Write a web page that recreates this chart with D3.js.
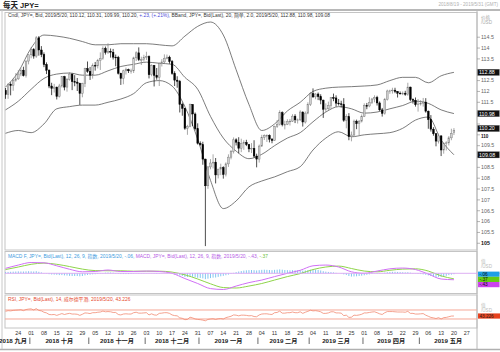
<!DOCTYPE html>
<html lang="zh">
<head>
<meta charset="UTF-8">
<title>每天 JPY=</title>
<script src="https://d3js.org/d3.v7.min.js"></script>
<style>
  body { margin: 0; background: #fff; }
  svg text { font-family: "Liberation Sans", "Noto Sans CJK SC", sans-serif; }
</style>
</head>
<body>
<svg id="chart" width="500" height="352"></svg>
<script>
// daily candles, 2018-09-17 .. 2019-05-20 (weekdays)
const startDay = "2018-09-17";
const endDay = "2019-05-31";
const opens = [
  112.05,111.85,112.33,112.27,112.50, 112.58,112.80,112.98,112.73,113.40,
  113.69,113.93,113.63,114.47,113.91, 113.70,113.24,112.98,112.25,112.14,
  112.20,111.77,112.25,112.68,112.20, 112.55,112.80,112.45,112.43,112.38,
  111.91,112.36,113.05,112.93,112.75, 113.20,113.18,113.42,113.52,113.98,
  113.80,113.85,113.81,113.58,113.57, 112.84,112.60,112.95,113.00,112.95,
  112.95,113.55,113.78,113.46,113.46, 113.57,113.61,112.77,113.20,112.74,
  112.65,113.29,113.36,113.53,113.58, 113.38,112.83,112.52,112.47,111.40,
  111.22,110.30,110.39,111.40,110.96, 110.28,109.61,109.55,108.88,107.65,
  108.52,108.70,108.74,108.15,108.42, 108.49,108.17,108.66,108.97,109.23,
  109.77,109.66,109.38,109.61,109.65, 109.55,109.35,109.38,109.02,108.88,
  109.48,109.88,109.96,109.97,109.80, 109.74,110.39,110.47,111.02,110.47,
  110.48,110.62,110.63,110.86,110.69, 110.69,111.05,110.59,111.00,111.39,
  111.90,111.75,111.88,111.76,111.60, 111.18,111.20,111.35,111.71,111.70,
  111.46,111.43,111.40,110.67,110.84, 109.92,109.99,110.63,110.51,110.63,
  110.85,111.35,111.33,111.50,111.65, 111.72,111.47,111.15,110.99,111.62,
  112.02,112.03,112.06,112.00,111.92, 111.91,111.92,111.87,112.20,111.63,
  111.59,111.39,111.42,111.46,111.51, 111.09,110.70,110.26,110.05,109.71,
  109.95,109.30,109.59,109.63,109.86, 110.12
];
const highs = [
  112.16,112.38,112.42,112.58,112.84, 112.98,113.07,113.14,113.43,113.71,
  114.04,114.00,114.55,114.55,114.09, 113.80,113.34,113.02,112.40,112.35,
  112.22,112.35,112.70,112.72,112.62, 112.88,112.83,112.75,112.62,112.40,
  112.40,113.09,113.38,113.13,113.29, 113.36,113.50,113.80,114.08,114.07,
  114.22,113.98,113.96,113.70,113.64, 112.86,113.00,113.10,113.05,113.05,
  113.60,113.85,114.03,113.60,113.69, 113.83,113.66,113.25,113.22,113.08,
  113.33,113.49,113.71,113.70,113.65, 113.45,112.93,112.70,112.53,111.48,
  111.24,110.46,111.44,111.41,111.03, 110.53,109.70,109.68,108.90,108.56,
  108.88,109.10,108.93,108.43,108.67, 108.55,108.73,109.10,109.30,109.88,
  109.84,109.89,109.82,109.75,109.77, 109.58,109.62,109.75,109.13,109.55,
  110.00,110.02,110.02,110.02,109.85, 110.42,110.68,111.13,111.08,110.65,
  110.72,110.73,110.95,110.95,110.75, 111.13,111.08,111.08,111.50,111.97,
  112.14,111.92,111.95,111.87,111.62, 111.45,111.53,111.72,111.90,111.82,
  111.65,111.57,111.69,110.95,111.00, 110.15,110.70,110.70,110.68,110.94,
  111.45,111.47,111.73,111.70,111.82, 111.80,111.54,111.24,111.70,112.08,
  112.08,112.17,112.17,112.02,112.00, 112.00,112.03,112.40,112.22,111.68,
  111.72,111.65,111.60,111.70,111.69, 111.12,110.91,110.35,110.06,110.06,
  109.98,109.65,109.70,109.94,110.28, 110.31
];
const lows = [
  111.66,111.66,111.82,112.03,112.45, 112.53,112.70,112.69,112.64,113.25,
  113.53,113.51,113.55,113.65,113.58, 113.12,112.80,112.15,111.83,111.95,
  111.63,111.72,112.18,112.05,111.99, 112.50,112.06,112.24,112.02,111.38,
  111.73,112.20,112.86,112.53,112.59, 112.96,113.06,112.99,113.46,113.70,
  113.73,113.56,113.47,113.16,112.78, 112.30,112.33,112.78,112.85,112.82,
  112.85,113.40,113.40,113.22,113.38, 113.45,112.60,112.70,112.23,112.54,
  112.25,113.15,113.30,113.48,113.28, 112.77,112.25,112.17,111.03,110.88,
  110.23,110.00,110.35,110.40,110.20, 109.55,109.50,108.62,104.87,107.51,
  108.41,108.45,107.76,107.99,108.14, 107.98,108.08,108.52,108.87,109.14,
  109.51,109.15,109.20,109.31,109.48, 109.20,109.16,108.95,108.50,108.72,
  109.45,109.76,109.67,109.65,109.61, 109.72,110.32,110.43,110.39,110.25,
  110.45,110.43,110.59,110.54,110.52, 110.64,110.38,110.52,110.95,111.33,
  111.70,111.64,111.60,111.41,110.78, 111.05,111.15,111.20,111.55,111.30,
  111.35,111.26,110.60,110.30,109.75, 109.70,109.92,110.26,109.99,110.57,
  110.82,111.18,111.27,111.42,111.50, 111.35,111.10,110.84,110.93,111.58,
  111.89,111.90,111.92,111.72,111.86, 111.83,111.80,111.80,111.55,111.44,
  111.30,111.07,111.35,111.30,111.02, 110.28,110.15,109.96,109.47,109.60,
  109.02,109.13,109.28,109.51,109.75, 109.99
];
const closes = [
  111.85,112.33,112.27,112.50,112.58, 112.80,112.98,112.73,113.40,113.69,
  113.93,113.63,114.47,113.91,113.70, 113.24,112.98,112.25,112.14,112.20,
  111.77,112.25,112.68,112.20,112.55, 112.80,112.45,112.43,112.38,111.91,
  112.36,113.05,112.93,112.75,113.20, 113.18,113.42,113.52,113.98,113.80,
  113.85,113.81,113.58,113.57,112.84, 112.60,112.95,113.00,112.95,112.95,
  113.55,113.78,113.46,113.46,113.57, 113.61,112.77,113.20,112.74,112.65,
  113.29,113.36,113.53,113.58,113.38, 112.83,112.52,112.47,111.40,111.22,
  110.30,110.39,111.40,110.96,110.28, 109.61,109.55,108.88,107.65,108.52,
  108.70,108.74,108.15,108.42,108.49, 108.17,108.66,108.97,109.23,109.77,
  109.66,109.38,109.61,109.65,109.55, 109.35,109.38,109.02,108.88,109.48,
  109.88,109.96,109.97,109.80,109.74, 110.39,110.47,111.02,110.47,110.48,
  110.62,110.63,110.86,110.69,110.69, 111.05,110.59,111.00,111.39,111.90,
  111.75,111.88,111.76,111.60,111.18, 111.20,111.35,111.71,111.70,111.46,
  111.43,111.40,110.67,110.84,109.92, 109.99,110.63,110.51,110.63,110.85,
  111.35,111.33,111.50,111.65,111.72, 111.47,111.15,110.99,111.62,112.02,
  112.03,112.06,112.00,111.92,111.91, 111.92,111.87,112.20,111.63,111.59,
  111.39,111.42,111.46,111.51,111.09, 110.70,110.26,110.05,109.71,109.95,
  109.30,109.59,109.63,109.86,110.06, 110.20
];

// Bollinger band (20, 2.0) read weekly, at day index 0,5,10,...,175
const bandIdx = [0,5,10,15,20,25,30,35,40,45,50,55,60,65,70,75,80,85,90,95,100,105,110,115,120,125,130,135,140,145,150,155,160,165,170,175];
const bandUpper = [112.2,112.9,114.0,114.6,114.55,114.45,114.3,114.15,114.15,114.2,114.2,114.2,114.15,114.1,114.55,115.0,115.2,114.6,113.0,111.4,110.2,110.5,111.1,111.5,112.0,112.15,112.2,112.22,112.25,112.3,112.5,112.65,112.65,112.4,112.72,112.88];
const bandMid = [111.15,111.55,112.1,112.6,112.8,112.85,112.75,112.75,112.95,113.15,113.25,113.35,113.3,113.25,112.65,112.1,110.85,109.85,109.25,108.9,109.1,109.5,109.85,110.1,110.6,111.05,111.3,111.2,111.0,111.05,111.2,111.35,111.55,111.45,111.15,110.98];
const bandLower = [110.07,110.2,110.1,110.5,111.2,111.3,111.37,111.37,111.5,111.65,111.9,112.4,112.5,112.25,111.3,109.8,107.9,106.6,106.95,107.6,107.87,108.06,108.3,108.53,109.3,109.85,110.14,109.91,110.0,110.05,110.1,110.3,110.68,110.82,109.76,109.08];

// MACD (12, 26, 9) lines, weekly
const macdLine = [0.33,0.55,0.72,0.7,0.5,0.27,0.1,0.12,0.22,0.12,0.12,0.15,0.12,0.0,-0.35,-0.68,-1.02,-1.08,-0.85,-0.62,-0.45,-0.22,0.0,0.2,0.5,0.55,0.42,0.1,0.0,0.15,0.3,0.35,0.25,-0.05,-0.38,-0.43];
const macdSignal = [0.25,0.42,0.6,0.68,0.6,0.45,0.28,0.18,0.17,0.17,0.14,0.14,0.14,0.08,-0.1,-0.38,-0.7,-0.95,-0.98,-0.85,-0.68,-0.45,-0.22,-0.02,0.25,0.42,0.48,0.32,0.15,0.1,0.2,0.28,0.3,0.15,-0.17,-0.37];
// MACD F histogram, daily
const macdHist = [
  0.08,0.09,0.10,0.11,0.12, 0.13,0.12,0.12,0.13,0.14, 0.13,0.12,0.14,0.10,0.06,
  0.02,-0.02,-0.06,-0.08,-0.09, -0.10,-0.12,-0.12,-0.14,-0.15, -0.17,-0.18,-0.18,-0.18,-0.20,
  -0.18,-0.14,-0.11,-0.09,-0.07, -0.06,-0.04,-0.02,0.02,0.04, 0.05,0.05,0.04,0.02,-0.03,
  -0.05,-0.05,-0.05,-0.05,-0.04, -0.02,0.01,0.02,0.02,0.02, 0.01,-0.01,-0.01,-0.02,-0.03,
  -0.02,-0.01,0.00,0.01,0.00, -0.04,-0.07,-0.09,-0.14,-0.18, -0.24,-0.25,-0.22,-0.23,-0.26,
  -0.30,-0.31,-0.34,-0.39,-0.36, -0.32,-0.29,-0.28,-0.24,-0.20, -0.17,-0.13,-0.09,-0.04,0.03,
  0.08,0.12,0.15,0.18,0.20, 0.21,0.22,0.21,0.19,0.21, 0.23,0.24,0.23,0.22,0.21,
  0.23,0.24,0.26,0.24,0.22, 0.21,0.20,0.21,0.20,0.19, 0.20,0.18,0.19,0.21,0.24,
  0.25,0.24,0.22,0.19,0.14, 0.11,0.09,0.08,0.06,0.03, 0.00,-0.02,-0.07,-0.11,-0.18,
  -0.22,-0.21,-0.20,-0.18,-0.16, -0.13,-0.10,-0.07,-0.04,-0.01, 0.02,0.02,0.01,0.04,0.07,
  0.09,0.10,0.10,0.09,0.08, 0.07,0.06,0.07,0.04,0.02, -0.01,-0.03,-0.05,-0.07,-0.10,
  -0.14,-0.18,-0.21,-0.24,-0.24, -0.24,-0.21,-0.17,-0.12,-0.09, -0.06
];

// RSI 14, daily
const rsi = [
  64,67,66,68,69, 70,71,67,72,74, 75,70,76,68,66, 60,57,50,49,50,
  46,50,54,50,53, 55,52,52,51,46, 51,57,56,54,58, 58,60,61,65,62,
  63,62,59,59,50, 48,52,53,52,52, 58,60,56,56,57, 58,48,53,48,47,
  55,56,58,58,55, 48,45,44,35,33, 27,28,38,35,30, 28,27,25,22,28,
  30,31,28,31,32, 30,36,39,42,48, 47,44,47,47,46, 44,45,41,40,48,
  52,53,53,51,50, 58,59,65,56,56, 58,58,61,58,58, 62,55,60,64,69,
  66,67,65,62,55, 55,57,62,62,57, 57,56,45,47,37, 38,47,46,48,51,
  57,57,59,61,62, 58,53,50,58,63, 63,63,62,61,61, 61,60,64,55,55,
  52,52,53,54,47, 42,37,35,32,36, 30,36,37,40,43, 43.226
];
const rsiBands = [70, 30];

const monthNames = ["一月","二月","三月","四月","五月","六月","七月","八月","九月","十月","十一月","十二月"];
const priceTicks = d3.range(105, 114.6, 0.5);

const svg = d3.select("#chart");
const W = 500, H = 352;
const left = 5, right = 477;
const mainTop = 12.5, mainBot = 250;
const macdTop = 251.5, macdBot = 293.5;
const rsiTop = 295, rsiBot = 328;

const parse = d3.timeParse("%Y-%m-%d");
const days = d3.timeDay.range(parse(startDay), d3.timeDay.offset(parse(endDay), 1))
  .filter(d => d.getDay() !== 0 && d.getDay() !== 6);

const x = d3.scaleLinear().domain([-0.2, days.length - 1]).range([left, right]);
const y = d3.scaleLinear().domain([104.69, 115.57]).range([mainBot, 14]);
const ym = d3.scaleLinear().domain([-1.35, 1.45]).range([293.55, 251.55]);
const yr = d3.scaleLinear().domain([-10, 137]).range([rsiBot, 294.9]);

// frame
svg.append("rect").attr("width", W).attr("height", H).attr("fill", "#fff");
svg.append("line").attr("x1", 0).attr("x2", W).attr("y1", 10).attr("y2", 10)
  .attr("stroke", "#a0a0a0").attr("stroke-width", 1.5);
svg.append("line").attr("x1", 0).attr("x2", W).attr("y1", 349.5).attr("y2", 349.5)
  .attr("stroke", "#b0b0b0").attr("stroke-width", 1.5);
svg.append("line").attr("x1", 2).attr("x2", 2).attr("y1", 10).attr("y2", 349)
  .attr("stroke", "#c8c8c8").attr("stroke-width", 1);

[[mainTop, mainBot], [macdTop, macdBot], [rsiTop, rsiBot]].forEach(([t, b]) => {
  svg.append("rect").attr("x", left).attr("y", t).attr("width", right - left).attr("height", b - t)
    .attr("fill", "none").attr("stroke", "#c4c4c4").attr("stroke-width", 1);
});
svg.append("line").attr("x1", right).attr("x2", right).attr("y1", 10).attr("y2", 349)
  .attr("stroke", "#b8b8b8").attr("stroke-width", 1);

// title
svg.append("text").attr("x", 3).attr("y", 8.3).attr("font-size", 7.5).attr("fill", "#222")
  .attr("font-weight", "bold").text("每天 JPY=");
svg.append("text").attr("x", 498).attr("y", 6).attr("text-anchor", "end")
  .attr("font-size", 4.6).attr("fill", "#b0b0b0").text("2018/8/19 - 2019/5/31 (GMT)");

// clip paths
const defs = svg.append("defs");
defs.append("clipPath").attr("id", "clipMain").append("rect")
  .attr("x", left).attr("y", mainTop).attr("width", right - left).attr("height", mainBot - mainTop);
defs.append("clipPath").attr("id", "clipMacd").append("rect")
  .attr("x", left).attr("y", macdTop).attr("width", right - left).attr("height", macdBot - macdTop);

// ---- main panel
const gMain = svg.append("g").attr("clip-path", "url(#clipMain)");

const band = d3.line().x(d => x(d[0])).y(d => y(d[1])).curve(d3.curveMonotoneX);
[bandUpper, bandMid, bandLower].forEach(arr => {
  gMain.append("path").datum(bandIdx.map((k, j) => [k, arr[j]]))
    .attr("d", band).attr("fill", "none").attr("stroke", "#5a5a5a").attr("stroke-width", 0.8);
});

const idx = d3.range(closes.length);
const isUp = i => closes[i] >= opens[i];
const bw = 1.7;
gMain.selectAll("line.wick").data(idx).join("line")
  .attr("class", "wick")
  .attr("x1", i => x(i)).attr("x2", i => x(i))
  .attr("y1", i => y(highs[i])).attr("y2", i => y(lows[i]))
  .attr("stroke", i => isUp(i) ? "#848484" : "#000").attr("stroke-width", 0.7);
gMain.selectAll("rect.body").data(idx).join("rect")
  .attr("class", "body")
  .attr("x", i => x(i) - bw / 2).attr("width", bw)
  .attr("y", i => y(Math.max(opens[i], closes[i])))
  .attr("height", i => Math.max(0.7, Math.abs(y(opens[i]) - y(closes[i]))))
  .attr("fill", i => isUp(i) ? "#cfcfcf" : "#000")
  .attr("stroke", i => isUp(i) ? "#7a7a7a" : "#000").attr("stroke-width", 0.45);

// main header
const hdr = svg.append("text").attr("x", 8).attr("y", 17.3).attr("font-size", 4.9).attr("fill", "#333");
hdr.append("tspan").text("Cndl, JPY=, Bid, 2019/5/20, 110.12, 110.31, 109.99, 110.20, ");
hdr.append("tspan").attr("fill", "#4b46d8").text("+.23, (+.21%), ");
hdr.append("tspan").text("BBand, JPY=, Bid(Last), 20, 简单, 2.0, 2019/5/20, 112.88, 110.98, 109.08");

// right price axis
svg.append("text").attr("x", 481).attr("y", 19).attr("font-size", 4.6).attr("fill", "#aaa").text("价格");
svg.append("text").attr("x", 481).attr("y", 24).attr("font-size", 4.6).attr("fill", "#aaa").text("/USD");

const lastI = bandIdx.length - 1;
const lastClose = closes[closes.length - 1];
const boxes = [
  { yy: y(bandUpper[lastI]), label: bandUpper[lastI].toFixed(2) },
  { yy: y(bandMid[lastI]), label: bandMid[lastI].toFixed(2) },
  { yy: y(lastClose) - 2, label: lastClose.toFixed(2) },
  { yy: y(bandLower[lastI]), label: bandLower[lastI].toFixed(2) }
];

const fmt = d3.format("~f");
const gAxis = svg.append("g");
priceTicks.forEach(v => {
  gAxis.append("line").attr("x1", right).attr("x2", right + 3).attr("y1", y(v)).attr("y2", y(v))
    .attr("stroke", "#888").attr("stroke-width", 0.6);
  // labels hidden behind a value box are left out
  const covered = boxes.some(b => Math.abs(b.yy - y(v)) < 6.5);
  if (covered && v !== 110) return;
  gAxis.append("text").attr("x", right + 4).attr("y", y(v) + (v === 110 ? 3.2 : 1.8))
    .attr("font-size", v === 110 ? 4.6 : 5.3)
    .attr("fill", v === 105 || v === 110 ? "#111" : "#666")
    .attr("font-weight", v === 105 || v === 110 ? "bold" : "normal")
    .text(fmt(v));
});
boxes.forEach(b => {
  svg.append("rect").attr("x", right + 0.5).attr("y", b.yy - 3.2).attr("width", 22).attr("height", 6.4)
    .attr("fill", "#111").attr("stroke", "#999").attr("stroke-width", 0.3);
  svg.append("text").attr("x", right + 2).attr("y", b.yy + 2).attr("font-size", 5.3).attr("fill", "#fff").text(b.label);
});

// ---- MACD panel
const gMacd = svg.append("g").attr("clip-path", "url(#clipMacd)");
gMacd.selectAll("line.hist").data(idx).join("line")
  .attr("x1", i => x(i)).attr("x2", i => x(i))
  .attr("y1", ym(0)).attr("y2", i => ym(macdHist[i]))
  .attr("stroke", "#74bfee").attr("stroke-width", 0.9);
svg.append("line").attr("x1", left).attr("x2", right + 23).attr("y1", ym(0)).attr("y2", ym(0))
  .attr("stroke", "#d9a6f2").attr("stroke-width", 0.9);
const mline = d3.line().x(d => x(d[0])).y(d => ym(d[1])).curve(d3.curveMonotoneX);
gMacd.append("path").datum(bandIdx.map((k, j) => [k, macdSignal[j]]))
  .attr("d", mline).attr("fill", "none").attr("stroke", "#8fd44a").attr("stroke-width", 1);
gMacd.append("path").datum(bandIdx.map((k, j) => [k, macdLine[j]]))
  .attr("d", mline).attr("fill", "none").attr("stroke", "#d070f5").attr("stroke-width", 1);

const mh = svg.append("text").attr("x", 8).attr("y", 258.2).attr("font-size", 4.9).attr("fill", "#3d9be0");
mh.append("tspan").text("MACD F, JPY=, Bid(Last), 12, 26, 9, 指数, 2019/5/20, -.06, ");
mh.append("tspan").attr("fill", "#b65ae6").text("MACD, JPY=, Bid(Last), 12, 26, 9, 指数, 2019/5/20, -.43, ");
mh.append("tspan").attr("fill", "#6cc23a").text("-.37");

svg.append("text").attr("x", 481).attr("y", 263).attr("font-size", 4.6).attr("fill", "#bbb").text("值");
svg.append("text").attr("x", 481).attr("y", 268).attr("font-size", 4.6).attr("fill", "#bbb").text("/USD");

const macdLabels = [
  { v: macdHist[macdHist.length - 1], bg: "#1e9fe6", t: "-.06" },
  { v: macdSignal[lastI], bg: "#66cc14", t: "-.37" },
  { v: macdLine[lastI], bg: "#cc44ee", t: "-.43" }
];
let prevY = -Infinity;
macdLabels.forEach(l => {
  let yy = Math.max(ym(l.v), prevY + 5.2);
  prevY = yy;
  svg.append("rect").attr("x", right + 1).attr("y", yy - 2.6).attr("width", 21.5).attr("height", 5.2).attr("fill", l.bg);
  svg.append("text").attr("x", right + 2.5).attr("y", yy + 1.7).attr("font-size", 4.8).attr("fill", "#111").text(l.t);
});

// ---- RSI panel
rsiBands.forEach(v => {
  svg.append("line").attr("x1", left).attr("x2", right).attr("y1", yr(v)).attr("y2", yr(v))
    .attr("stroke", "#f5a797").attr("stroke-width", 1);
});
svg.append("path").datum(idx)
  .attr("d", d3.line().x(i => x(i)).y(i => yr(rsi[i])))
  .attr("fill", "none").attr("stroke", "#f18a72").attr("stroke-width", 0.8);
svg.append("text").attr("x", 8).attr("y", 300.8).attr("font-size", 4.9).attr("fill", "#e5482c")
  .text("RSI, JPY=, Bid(Last), 14, 威尔德平滑, 2019/5/20, 43.226");
svg.append("text").attr("x", 481).attr("y", 307).attr("font-size", 4.6).attr("fill", "#bbb").text("值");
svg.append("text").attr("x", 481).attr("y", 312).attr("font-size", 4.6).attr("fill", "#bbb").text("/USD");
svg.append("rect").attr("x", right + 1).attr("y", yr(rsi[rsi.length - 1]) - 2.6).attr("width", 22)
  .attr("height", 5.2).attr("fill", "#e8421e");
svg.append("text").attr("x", right + 2.5).attr("y", yr(rsi[rsi.length - 1]) + 1.7).attr("font-size", 4.6)
  .attr("fill", "#222").text("43.226");

// ---- x axis
const dayFmt = d3.timeFormat("%d");
days.forEach((d, i) => {
  if (d.getDay() === 1 && i >= 3) {
    svg.append("text").attr("x", x(i)).attr("y", 334.5).attr("text-anchor", "middle")
      .attr("font-size", 5.4).attr("fill", "#333").text(dayFmt(d));
  }
});
const monthStarts = [];
days.forEach((d, i) => {
  if (i === 0 || d.getMonth() !== days[i - 1].getMonth()) monthStarts.push(i);
});
const half = (x(1) - x(0)) / 2;
monthStarts.forEach((s, k) => {
  const d = days[s];
  const x0 = k === 0 ? 0 : x(s) - half;
  const x1 = k + 1 < monthStarts.length ? x(monthStarts[k + 1]) - half : right;
  const label = d.getFullYear() + " " + monthNames[d.getMonth()];
  const t = svg.append("text").attr("y", 343).attr("font-size", 6.2).attr("font-weight", "bold").attr("fill", "#222");
  if (k === 0) {
    t.attr("x", x1 - 3).attr("text-anchor", "end").text(label);
  } else {
    t.attr("x", (x0 + x1) / 2).attr("text-anchor", "middle").text(label);
  }
  if (k > 0) {
    svg.append("line").attr("x1", x0).attr("x2", x0).attr("y1", 337.5).attr("y2", 344)
      .attr("stroke", "#444").attr("stroke-width", 0.8);
  }
});
</script>
</body>
</html>
